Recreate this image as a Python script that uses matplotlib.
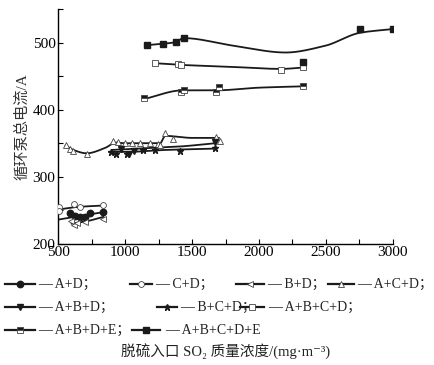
import matplotlib
matplotlib.use("Agg")
import matplotlib.pyplot as plt
import numpy as np
from matplotlib.lines import Line2D
from matplotlib.ticker import MultipleLocator

plt.rcParams["font.family"] = ["Liberation Serif", "Noto Sans CJK SC", "DejaVu Sans"]

# markers
ad_x = [587, 624, 662, 700, 737, 832]
ad_y = [245.5, 241.5, 240.5, 240.5, 245.5, 247]
cd_x = [507, 507, 617, 662, 837]
cd_y = [254.5, 249.5, 259.5, 254.5, 258]
bd_x = [595, 615, 640, 700, 837]
bd_y = [234, 228, 231, 232, 237]
acd_x = [555, 587, 612, 712, 911, 948, 998, 1048, 1111, 1185, 1248, 1260, 1298, 1355, 1676, 1708]
acd_y = [347, 342, 338, 334.5, 353, 351.5, 350.5, 350.5, 350.5, 350.5, 349.5, 347, 365.5, 356.5, 359.5, 353]
abd_x = [966, 1031, 1066, 1671]
abd_y = [342, 334.5, 338, 351.5]
bcd_x = [894, 931, 1011, 1136, 1223, 1410, 1671]
bcd_y = [337.5, 334.5, 334.5, 339.5, 340.5, 339, 342.5]
abcd_x = [1223, 1392, 1417, 2165, 2327]
abcd_y = [469.5, 468.5, 467, 459, 463.5]
abde_x = [1141, 1417, 1437, 1676, 1704, 2327]
abde_y = [417, 427, 430, 426.5, 434, 435.5]
abcde_x = [1165, 1280, 1377, 1437, 2332, 2756, 3000]
abcde_y = [496.5, 498.5, 501.5, 507.5, 471.5, 520.5, 520.5]

# fitted curve nodes
ad_cx, ad_cy = [500, 650, 832], [236, 241, 247]
cd_cx, cd_cy = [500, 650, 837], [251, 255, 257]
bd_cx, bd_cy = [600, 700, 837], [230, 233, 240]
acd_cx = [555, 612, 712, 850, 930, 1000, 1260, 1300, 1500, 1700]
acd_cy = [347, 340, 335, 343, 351, 350, 350, 361, 358, 358]
abd_cx, abd_cy = [900, 1100, 1400, 1671], [340, 342, 345, 350]
bcd_cx, bcd_cy = [880, 1000, 1300, 1671], [337, 337, 340, 342]
abcd_cx, abcd_cy = [1223, 1417, 1800, 2165, 2327], [469.5, 467, 464, 461, 463]
abde_cx, abde_cy = [1141, 1430, 1680, 2000, 2327], [416, 429, 429, 433, 435]
abcde_cx = [1165, 1280, 1377, 1437, 1800, 2200, 2494, 2756, 3000]
abcde_cy = [496.5, 498.5, 501, 507, 496, 485.5, 495.5, 515, 520.5]


def smooth(xs, ys, n=200):
    # monotone cubic (Fritsch-Carlson) through the nodes
    x = np.asarray(xs, float)
    y = np.asarray(ys, float)
    h = np.diff(x)
    d = np.diff(y) / h
    m = np.zeros_like(x)
    m[0], m[-1] = d[0], d[-1]
    for i in range(1, len(x) - 1):
        if d[i - 1] * d[i] > 0:
            m[i] = 2 / (1 / d[i - 1] + 1 / d[i])
    xx = np.linspace(x[0], x[-1], n)
    k = np.clip(np.searchsorted(x, xx) - 1, 0, len(h) - 1)
    t = (xx - x[k]) / h[k]
    h00 = 2 * t**3 - 3 * t**2 + 1
    h10 = t**3 - 2 * t**2 + t
    h01 = -2 * t**3 + 3 * t**2
    h11 = t**3 - t**2
    yy = h00 * y[k] + h10 * h[k] * m[k] + h01 * y[k + 1] + h11 * h[k] * m[k + 1]
    return xx, yy


col = "#1a1a1a"
series = [
    ("A+D", ad_x, ad_y, ad_cx, ad_cy, dict(marker="o", ms=4.6, mfc=col, mec=col)),
    ("C+D", cd_x, cd_y, cd_cx, cd_cy, dict(marker="o", ms=4.2, mfc="white", mec="#444", mew=0.6)),
    ("B+D", bd_x, bd_y, bd_cx, bd_cy, dict(marker="<", ms=4.2, mfc="white", mec="#444", mew=0.6)),
    ("A+C+D", acd_x, acd_y, acd_cx, acd_cy, dict(marker="^", ms=5, mfc="white", mec="#444", mew=0.6)),
    ("A+B+D", abd_x, abd_y, abd_cx, abd_cy, dict(marker="v", ms=4.6, mfc=col, mec=col)),
    ("B+C+D", bcd_x, bcd_y, bcd_cx, bcd_cy, dict(marker="*", ms=4.6, mfc=col, mec=col)),
    ("A+B+C+D", abcd_x, abcd_y, abcd_cx, abcd_cy, dict(marker="s", ms=4.2, mfc="white", mec="#444", mew=0.6)),
    ("A+B+D+E", abde_x, abde_y, abde_cx, abde_cy, dict(marker="s", ms=4, mfc=col, mfcalt="white", fillstyle="top", mec="#444", mew=0.6)),
    ("A+B+C+D+E", abcde_x, abcde_y, abcde_cx, abcde_cy, dict(marker="s", ms=5, mfc=col, mec=col)),
]

fig = plt.figure(figsize=(4.34, 3.65), dpi=100)
ax = fig.add_axes([0.1343, 0.3323, 0.7706, 0.6422])

for name, mx, my, cx, cy, mk in series:
    xx, yy = smooth(cx, cy)
    ax.plot(xx, yy, color=col, lw=1.3, zorder=2)
    ax.plot(mx, my, ls="none", zorder=3, **mk)

ax.set_xlim(500, 3000)
ax.set_ylim(200, 550)
ax.set_xticks([500, 1000, 1500, 2000, 2500, 3000])
ax.set_yticks([200, 300, 400, 500])
ax.xaxis.set_minor_locator(MultipleLocator(250))
ax.yaxis.set_minor_locator(MultipleLocator(50))
ax.tick_params(which="both", direction="in", length=3.5, width=0.8, labelsize=11, pad=2)
ax.spines["top"].set_visible(False)
ax.spines["right"].set_visible(False)
for s in ("left", "bottom"):
    ax.spines[s].set_linewidth(1.0)
ax.set_ylabel("循环泵总电流/A", fontsize=11, color="#333", labelpad=2)

# legend drawn in pixel coordinates below the axes
lg = fig.add_axes([0, 0, 1, 1], facecolor="none")
lg.set_xlim(0, 434)
lg.set_ylim(365, 0)
lg.axis("off")
rows = [
    (284, [(5, 35, 38), (130, 152, 155), (236, 264, 267), (328, 354, 357)], [0, 1, 2, 3]),
    (307, [(5, 35, 38), (157, 177, 180), (240, 264, 268)], [4, 5, 6]),
    (330, [(5, 35, 38), (132, 160, 165)], [7, 8]),
]
for i, (yrow, spots, idx) in enumerate(rows):
    for (x0, x1, tx), j in zip(spots, idx):
        name = series[j][0]
        mk = series[j][5]
        lg.add_line(Line2D([x0, x1], [yrow, yrow], color=col, lw=1.6))
        lg.add_line(Line2D([(x0 + x1) / 2], [yrow], ls="none", **mk))
        end = "" if j == 8 else "；"
        lg.text(tx, yrow, "— " + name + end, fontsize=10, va="center", ha="left", color="#222")

lg.text(226, 352, "脱硫入口 SO₂ 质量浓度/(mg·m⁻³)", fontsize=10.5, va="center", ha="center", color="#222")

fig.savefig("out.png", dpi=100)
